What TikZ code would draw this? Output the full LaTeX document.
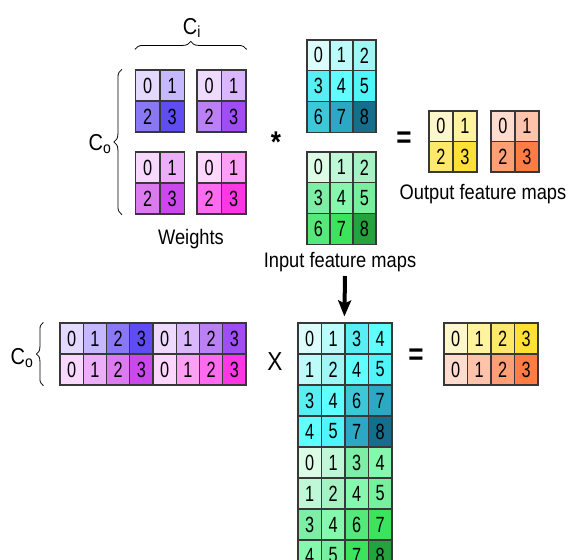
\documentclass[tikz,border=0pt]{standalone}
\usepackage{fontspec}
\setmainfont{Liberation Sans}[FakeStretch=0.87]
\newfontfamily\cellfont{Liberation Sans}[FakeStretch=0.74]
\usepackage{xcolor}
\usepackage{tikz}
\usetikzlibrary{positioning,arrows.meta,decorations.pathreplacing}
\definecolor{cellline}{HTML}{383838}
% weight kernels (out channel / in channel)
\definecolor{wa0}{HTML}{E4DAFF}\definecolor{wa1}{HTML}{C6B8FF}\definecolor{wa2}{HTML}{8878F6}\definecolor{wa3}{HTML}{5F4CF2}
\definecolor{wb0}{HTML}{EEDAFF}\definecolor{wb1}{HTML}{DAB6FD}\definecolor{wb2}{HTML}{BC80F5}\definecolor{wb3}{HTML}{9E4EF4}
\definecolor{wc0}{HTML}{F8D8FE}\definecolor{wc1}{HTML}{ECADF9}\definecolor{wc2}{HTML}{DC7BF0}\definecolor{wc3}{HTML}{CB48EC}
\definecolor{wd0}{HTML}{FDD6FD}\definecolor{wd1}{HTML}{FD9FF3}\definecolor{wd2}{HTML}{FD6BEE}\definecolor{wd3}{HTML}{FC38E4}
% input maps
\definecolor{cy0}{HTML}{DDFDFD}\definecolor{cy1}{HTML}{BDFBFB}\definecolor{cy2}{HTML}{A0F5F5}
\definecolor{cy3}{HTML}{58EEF4}\definecolor{cy4}{HTML}{5FFFFF}\definecolor{cy5}{HTML}{50F5FA}
\definecolor{cy6}{HTML}{3CC8D8}\definecolor{cy7}{HTML}{2CA8C4}\definecolor{cy8}{HTML}{156E8C}
\definecolor{gr0}{HTML}{DCFCE6}\definecolor{gr1}{HTML}{BFF8D6}\definecolor{gr2}{HTML}{A6F2C4}
\definecolor{gr3}{HTML}{7EEDA6}\definecolor{gr4}{HTML}{86F8AE}\definecolor{gr5}{HTML}{76F09C}
\definecolor{gr6}{HTML}{55E87A}\definecolor{gr7}{HTML}{3CE45E}\definecolor{gr8}{HTML}{23A23E}
% output maps
\definecolor{ye0}{HTML}{FFF7CC}\definecolor{ye1}{HTML}{FFF3A0}\definecolor{ye2}{HTML}{FFE86A}\definecolor{ye3}{HTML}{FFE135}
\definecolor{or0}{HTML}{FFDCCE}\definecolor{or1}{HTML}{FFC2AA}\definecolor{or2}{HTML}{FF9F76}\definecolor{or3}{HTML}{FF7C45}

\begin{document}
\begin{tikzpicture}[x=1pt, y=-1pt,
  cell/.style={draw=cellline, line width=1.2pt, inner sep=0pt, minimum width=#1, minimum height=31pt,
    font={\cellfont\fontsize{22}{24}\selectfont}},
  cell/.default=23.5pt,
  lbl/.style={inner sep=0pt, font=\fontsize{21}{23}\selectfont},
  op/.style={inner sep=0pt, font=\bfseries\fontsize{30}{30}\selectfont},
  brc/.style={decorate, decoration={brace, amplitude=8pt}, line width=0.8pt},
  arr/.style={-{Stealth[length=16pt, width=13pt, inset=3pt]}, line width=4pt}]
\useasboundingbox (0,0) rectangle (571,560);
\clip (0,0) rectangle (571,560);

% weights
\foreach \k/\x/\y in {a/135.5/70, b/197/70, c/135.5/152, d/197/152}
  \foreach \v/\c/\r in {0/0/0, 1/1/0, 2/0/1, 3/1/1}
    \node[cell=24.5pt, fill=w\k\v] (w\k-\v) at (\x+24.5*\c+12.25, \y+31*\r+15.5) {\v};
\draw[brc] ([yshift=20pt]wa-0.north west) -- ([yshift=20pt]wb-1.north east);
\draw[brc] ([xshift=-13pt]wc-2.south west) -- ([xshift=-13pt]wa-0.north west);
\node[lbl, font=\fontsize{23}{25}\selectfont] (ci) at (192,28) {C\textsubscript{i}};
\node[lbl, font=\fontsize{23}{25}\selectfont] (co) at (100,144) {C\textsubscript{o}};
\node[lbl] (wlbl) at (191,239) {Weights};

% input feature maps
\foreach \m/\y in {cy/40, gr/152}
  \foreach \r in {0,1,2}
    \foreach \c in {0,1,2} {
      \pgfmathtruncatemacro\v{3*\r+\c}
      \node[cell=23pt, minimum height=30.7pt, fill=\m\v] (\m-\v) at (307+23*\c+11.5, \y+30.7*\r+15.35) {\v};
    }
\node[op] (star) at (276,142) {*};
\node[lbl] (inlbl) at (340,262) {Input feature maps};

% output feature maps
\node[op] (eq1) at (404,140) {=};
\foreach \k/\x in {ye/429, or/491}
  \foreach \v/\c/\r in {0/0/0, 1/1/0, 2/0/1, 3/1/1}
    \node[cell=24pt, minimum height=30.5pt, fill=\k\v] (o\k-\v) at (\x+24*\c+12, 111+30.5*\r+15.25) {\v};
\node[lbl] (outlbl) at (483,194) {Output feature maps};

% lowered to a matrix product
\foreach \k/\r/\s in {a/0/0, b/0/4, c/1/0, d/1/4}
  \foreach \v in {0,...,3}
    \node[cell=23.25pt, fill=w\k\v] (mw\k-\v) at (60+23.25*\s+23.25*\v+11.625, 323+31*\r+15.5) {\v};
\draw[brc, decoration={amplitude=7pt}] ([xshift=-16pt]mwc-0.south west) -- ([xshift=-16pt]mwa-0.north west);
\node[lbl, font=\fontsize{23}{25}\selectfont] (co2) at (22,358) {C\textsubscript{o}};

\node[lbl, font=\fontsize{26}{28}\selectfont] (times) at (275,362) {X};

\foreach \m/\y in {cy/323, gr/447}
  \foreach \r/\p in {0/0, 1/1, 2/3, 3/4}
    \foreach \c/\q in {0/0, 1/1, 2/3, 3/4} {
      \pgfmathtruncatemacro\v{\p+\q}
      \node[cell, fill=\m\v] (x\m-\r-\c) at (298+23.5*\c+11.75, \y+31*\r+15.5) {\v};
    }

\coordinate (arrtop) at (345,276);
\draw[arr] (arrtop) -- ([yshift=6pt]xcy-0-2.north west);

\node[op] (eq2) at (416,357) {=};
\foreach \k/\r in {ye/0, or/1}
  \foreach \v in {0,...,3}
    \node[cell, fill=\k\v] (r\k-\v) at (444+23.5*\v+11.75, 323+31*\r+15.5) {\v};
\end{tikzpicture}
\end{document}
